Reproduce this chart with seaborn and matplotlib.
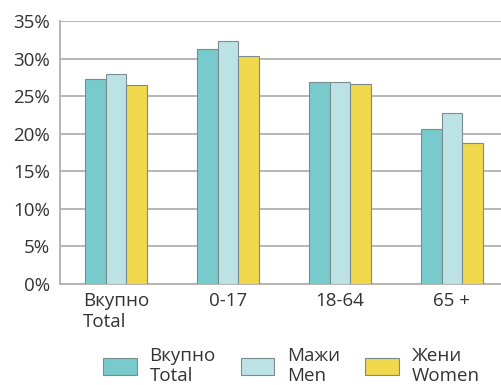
import matplotlib
matplotlib.use("Agg")
import matplotlib.pyplot as plt
import seaborn as sns
import pandas as pd
from matplotlib.patches import Patch

categories = ["Вкупно\nTotal", "0-17", "18-64", "65 +"]
series_names = ["Вкупно\nTotal", "Мажи\nMen", "Жени\nWomen"]
total = [27.3, 31.3, 26.9, 20.6]
men = [27.9, 32.3, 26.9, 22.8]
women = [26.5, 30.3, 26.6, 18.7]
yticks = [0, 5, 10, 15, 20, 25, 30, 35]

colors = ["#79CACD", "#BDE2E5", "#F0D74C"]
edge = "#7a8d8e"

rows = []
for name, vals in zip(series_names, [total, men, women]):
    for cat, v in zip(categories, vals):
        rows.append({"category": cat, "series": name, "value": v})
df = pd.DataFrame(rows)

sns.set_style("white")
plt.rcParams["font.family"] = ["Open Sans", "DejaVu Sans"]

fig = plt.figure(figsize=(5.01, 3.85), dpi=100)
ax = fig.add_axes([60 / 501, 1 - 284 / 385, 448 / 501, 263 / 385])

sns.barplot(data=df, x="category", y="value", hue="series",
            order=categories, hue_order=series_names,
            palette=colors, saturation=1, width=0.55, ax=ax,
            edgecolor=edge, linewidth=0.8, legend=False, zorder=3)

ax.set_ylim(0, 35)
ax.set_xlim(-0.5, 3.5)
ax.set_yticks(yticks)
ax.set_yticklabels([f"{t}%" for t in yticks])
ax.yaxis.grid(True, color="#b5b5b5", linewidth=1.4, zorder=0)
ax.set_axisbelow(True)
for s in ["top", "right"]:
    ax.spines[s].set_visible(False)
for s in ["left", "bottom"]:
    ax.spines[s].set_color("#b5b5b5")
    ax.spines[s].set_linewidth(1.4)
ax.set_xlabel("")
ax.set_ylabel("")
ax.tick_params(axis="both", length=0, labelsize=13.5, labelcolor="#333333")
ax.tick_params(axis="y", pad=7)
ax.tick_params(axis="x", pad=6)
for lbl in ax.get_xticklabels():
    lbl.set_multialignment("left")

handles = [Patch(facecolor=c, edgecolor=edge, linewidth=0.8) for c in colors]
fig.legend(handles, series_names, loc="center left",
           bbox_to_anchor=(103 / 501, 1 - 366 / 385),
           ncol=3, frameon=False, fontsize=13.5, handlelength=1.8,
           handleheight=1.07, columnspacing=1.33, handletextpad=0.68,
           borderpad=0, borderaxespad=0, labelcolor="#333333")

fig.savefig("out.png", dpi=100)
